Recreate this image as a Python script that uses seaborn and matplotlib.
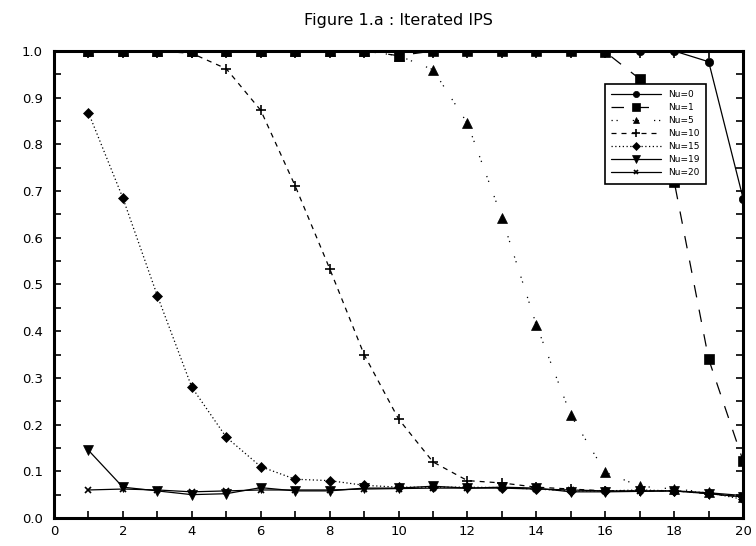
import numpy as np
import pandas as pd
import seaborn as sns
import matplotlib
matplotlib.use("Agg")
import matplotlib.pyplot as plt
from matplotlib.ticker import MultipleLocator, FormatStrFormatter

# iterations on the x axis
steps = list(range(1, 21))

# one list per Nu value
nu_0 = [1.0] * 18 + [0.977, 0.684]
nu_1 = [1.0] * 9 + [0.99, 1.0, 1.0, 1.0, 1.0, 1.0, 0.998, 0.94, 0.72, 0.34, 0.122]
nu_5 = [1.0] * 9 + [0.99, 0.96, 0.845, 0.643, 0.413, 0.22, 0.098, 0.068, 0.062, 0.055, 0.045]
nu_10 = [1.0, 1.0, 1.0, 0.995, 0.962, 0.873, 0.711, 0.534, 0.35, 0.212, 0.12, 0.08,
         0.075, 0.066, 0.062, 0.058, 0.058, 0.058, 0.052, 0.045]
nu_15 = [0.868, 0.685, 0.476, 0.28, 0.173, 0.11, 0.083, 0.08, 0.07, 0.066, 0.066, 0.066,
         0.065, 0.062, 0.058, 0.058, 0.06, 0.058, 0.054, 0.04]
nu_19 = [0.145, 0.066, 0.058, 0.05, 0.052, 0.065, 0.058, 0.058, 0.064, 0.064, 0.068, 0.064,
         0.066, 0.064, 0.056, 0.056, 0.057, 0.058, 0.052, 0.045]
nu_20 = [0.06, 0.062, 0.06, 0.056, 0.058, 0.06, 0.06, 0.06, 0.062, 0.063, 0.064, 0.064,
         0.064, 0.062, 0.06, 0.058, 0.058, 0.058, 0.054, 0.048]

labels = ["Nu=0", "Nu=1", "Nu=5", "Nu=10", "Nu=15", "Nu=19", "Nu=20"]
series = [nu_0, nu_1, nu_5, nu_10, nu_15, nu_19, nu_20]

# marker, size, line style for each curve
styles = [
    ("o", 6, "-"),
    ("s", 7, (0, (10, 10))),
    ("^", 6.5, (0, (1, 3, 1, 12))),
    ("+", 7, (0, (4, 4))),
    ("D", 5.5, (0, (1, 2))),
    ("v", 7, "-"),
    ("x", 4, "-"),
]

sns.set_style("ticks")
plt.rcParams["font.family"] = ["DejaVu Sans"]
plt.rcParams["text.color"] = "black"

fig, ax = plt.subplots(figsize=(7.56, 5.46), dpi=100)
fig.subplots_adjust(left=0.0714, right=0.983, top=0.9066, bottom=0.0513)

for lab, vals, (mk, ms, ls) in zip(labels, series, styles):
    df = pd.DataFrame({"step": steps, "value": vals})
    sns.lineplot(data=df, x="step", y="value", ax=ax, color="black",
                 marker=mk, markersize=ms, markeredgecolor="black",
                 markeredgewidth=1.2 if mk in "+x" else 0.5,
                 linestyle=ls, linewidth=0.9, label=lab)

ax.set_xlim(0, 20)
ax.set_ylim(0, 1.0)
ax.xaxis.set_major_locator(MultipleLocator(2))
ax.xaxis.set_minor_locator(MultipleLocator(1))
ax.yaxis.set_major_locator(MultipleLocator(0.1))
ax.yaxis.set_minor_locator(MultipleLocator(0.05))
ax.yaxis.set_major_formatter(FormatStrFormatter("%.1f"))
ax.set_xlabel("")
ax.set_ylabel("")

for sp in ax.spines.values():
    sp.set_visible(True)
    sp.set_linewidth(2.2)
    sp.set_color("black")

ax.tick_params(which="both", direction="in", top=True, right=True,
               width=1.2, colors="black", labelsize=9.5)
ax.tick_params(which="major", length=5)
ax.tick_params(which="minor", length=5)
ax.tick_params(axis="y", pad=8)
ax.tick_params(axis="x", pad=5)

ax.set_title("Figure 1.a : Iterated IPS", fontsize=11.5, pad=19, color="black")

leg = ax.legend(loc="upper right", bbox_to_anchor=(0.952, 0.94), fontsize=6.5,
                handlelength=5.5, numpoints=1, markerscale=0.75, frameon=True,
                fancybox=False, framealpha=1, borderpad=0.7, labelspacing=0.45,
                handletextpad=0.8)
leg.get_frame().set_edgecolor("black")
leg.get_frame().set_linewidth(1.2)
for t in leg.get_texts():
    t.set_color("black")

fig.savefig("out.png", dpi=100)
